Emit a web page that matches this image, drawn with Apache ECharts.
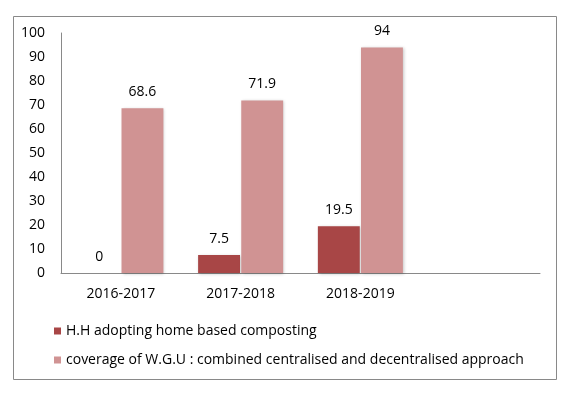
<!DOCTYPE html>
<html>
<head>
<meta charset="utf-8">
<script src="https://cdn.jsdelivr.net/npm/echarts@6/dist/echarts.min.js"></script>
<style>html,body{margin:0;padding:0;background:#fff;}#c{width:570px;height:394px;}</style>
</head>
<body>
<div id="c"></div>
<script>
var categories = ['2016-2017', '2017-2018', '2018-2019', ''];
var seriesNames = ['H.H adopting home based composting', 'coverage of W.G.U : combined centralised and decentralised approach'];
var homeComposting = [0, 7.5, 19.5, null];
var coverage = [68.6, 71.9, 94, null];
var yTicks = {min: 0, max: 100, interval: 10};

var FONT = 'Open Sans';
var FS = 14;
var chart = echarts.init(document.getElementById('c'), null, {renderer: 'canvas'});
var labelCfg = {show: true, position: 'top', distance: 9, color: '#000', fontSize: FS, fontFamily: FONT};
var shadow = {shadowColor: 'rgba(0,0,0,0.22)', shadowBlur: 3, shadowOffsetX: 1, shadowOffsetY: 1};
chart.setOption({
  animation: false,
  backgroundColor: '#fff',
  graphic: [{type: 'rect', shape: {x: 13.5, y: 16.5, width: 543, height: 363}, style: {fill: 'none', stroke: '#898989', lineWidth: 1}, silent: true}],
  grid: {left: 61, right: 30, top: 33, bottom: 121},
  legend: {
    orient: 'vertical', left: 49, top: 318, itemWidth: 7, itemHeight: 7, itemGap: 13, icon: 'rect',
    textStyle: {fontSize: FS, fontFamily: FONT, color: '#000', lineHeight: 16},
    data: seriesNames
  },
  xAxis: {
    type: 'category', data: categories,
    axisLine: {lineStyle: {color: '#898989'}}, axisTick: {show: false},
    axisLabel: {fontSize: FS, fontFamily: FONT, color: '#000', margin: 14}
  },
  yAxis: {
    type: 'value', min: yTicks.min, max: yTicks.max, interval: yTicks.interval,
    axisLine: {show: true, lineStyle: {color: '#898989'}}, axisTick: {show: false}, splitLine: {show: false},
    axisLabel: {fontSize: FS, fontFamily: FONT, color: '#000', margin: 16}
  },
  series: [
    {name: seriesNames[0], type: 'bar', data: homeComposting, barGap: '3%', barCategoryGap: '29%',
     itemStyle: Object.assign({color: '#a84646'}, shadow), label: labelCfg},
    {name: seriesNames[1], type: 'bar', data: coverage,
     itemStyle: Object.assign({color: '#d09393'}, shadow), label: labelCfg}
  ]
});
</script>
</body>
</html>
